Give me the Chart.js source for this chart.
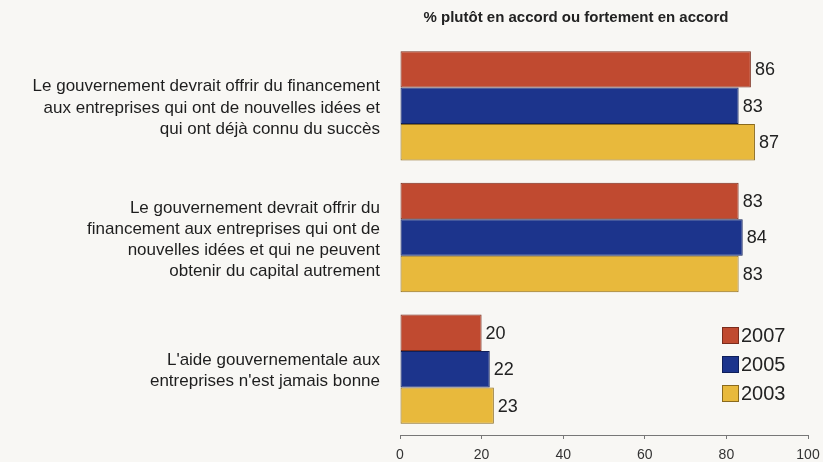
<!DOCTYPE html>
<html>
<head>
<meta charset="utf-8">
<script src="https://cdn.jsdelivr.net/npm/chart.js@4/dist/chart.umd.min.js"></script>
<style>
  html, body { margin: 0; padding: 0; background: #f8f7f4; }
  #wrap { width: 823px; height: 462px; }
</style>
</head>
<body>
<div id="wrap"><canvas id="chart" width="823" height="462"></canvas></div>
<script>
// Data
const categories = [
    ["Le gouvernement devrait offrir du financement", "aux entreprises qui ont de nouvelles idées et", "qui ont déjà connu du succès"],
    ["Le gouvernement devrait offrir du", "financement aux entreprises qui ont de", "nouvelles idées et qui ne peuvent", "obtenir du capital autrement"],
    ["L'aide gouvernementale aux", "entreprises n'est jamais bonne"]
];
const years = ["2007", "2005", "2003"];
const values2007 = [86, 83, 20];
const values2005 = [83, 84, 22];
const values2003 = [87, 83, 23];
const xTicks = [0, 20, 40, 60, 80, 100];
const title = "% plutôt en accord ou fortement en accord";

const colors = ["#c04a30", "#1c348c", "#e8b93c"];
const borders = ["#7a2c1c", "#0f1f5a", "#8a6a1e"];
const font = "'Liberation Sans', Arial, sans-serif";

// value labels at bar ends
const valueLabels = {
    id: "valueLabels",
    afterDatasetsDraw(chart) {
        const ctx = chart.ctx;
        ctx.save();
        ctx.font = "18px " + font;
        ctx.fillStyle = "#222";
        ctx.textBaseline = "middle";
        chart.data.datasets.forEach((ds, i) => {
            chart.getDatasetMeta(i).data.forEach((bar, j) => {
                ctx.fillText(ds.data[j], bar.x + 4, bar.y + 1);
            });
        });
        ctx.restore();
    }
};

// title and legend drawn where the original has them
const extras = {
    id: "extras",
    afterDraw(chart) {
        const ctx = chart.ctx;
        ctx.save();
        ctx.font = "bold 15px " + font;
        ctx.fillStyle = "#222";
        ctx.textAlign = "center";
        ctx.textBaseline = "middle";
        ctx.fillText(title, 576, 18);

        ctx.textAlign = "left";
        ctx.font = "20px " + font;
        chart.data.datasets.forEach((ds, i) => {
            const y = 335 + i * 29;
            ctx.fillStyle = ds.backgroundColor;
            ctx.fillRect(722, y - 8, 16, 16);
            ctx.strokeStyle = ds.borderColor;
            ctx.lineWidth = 1;
            ctx.strokeRect(722.5, y - 7.5, 16, 16);
            ctx.fillStyle = "#222";
            ctx.fillText(ds.label, 741, y + 1);
        });
        ctx.restore();
    }
};

new Chart(document.getElementById("chart"), {
    type: "bar",
    data: {
        labels: categories,
        datasets: [values2007, values2005, values2003].map((d, i) => ({
            label: years[i],
            data: d,
            backgroundColor: colors[i],
            borderColor: borders[i],
            borderWidth: 1,
            borderSkipped: false,
            categoryPercentage: 0.83,
            barPercentage: 1.0
        }))
    },
    options: {
        indexAxis: "y",
        responsive: false,
        animation: false,
        layout: { padding: { top: 40, right: 15, left: 0, bottom: 0 } },
        plugins: {
            legend: { display: false },
            tooltip: { enabled: false }
        },
        scales: {
            x: {
                min: 0,
                max: 100,
                afterBuildTicks(scale) { scale.ticks = xTicks.map(v => ({ value: v })); },
                afterFit(scale) {
                    scale.height = 27;
                    scale.paddingLeft = 0;
                    scale.paddingRight = 0;
                },
                grid: { display: true, drawOnChartArea: false, drawTicks: true, tickLength: 4, color: "#777" },
                border: { display: true, color: "#777" },
                ticks: {
                    color: "#333",
                    padding: 8,
                    font: { family: font, size: 14 }
                }
            },
            y: {
                afterFit(scale) {
                    scale.width = 400;
                    scale.paddingTop = 0;
                    scale.paddingBottom = 0;
                },
                grid: { display: false },
                border: { display: false },
                ticks: {
                    color: "#1e1e1e",
                    padding: 12,
                    labelOffset: 2,
                    font: { family: font, size: 17, lineHeight: 1.24 }
                }
            }
        }
    },
    plugins: [valueLabels, extras]
});
</script>
</body>
</html>
